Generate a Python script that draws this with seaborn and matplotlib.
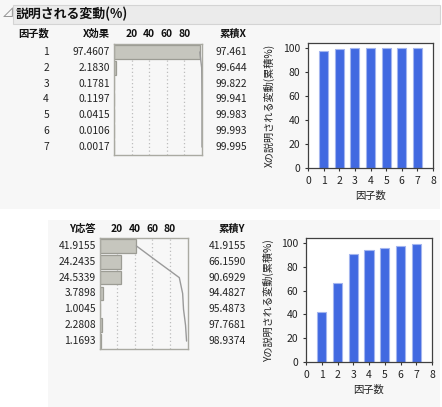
import matplotlib
matplotlib.use("Agg")
import matplotlib.pyplot as plt
from matplotlib.patches import Rectangle
import seaborn as sns

# ---------------- data ----------------
factors = [1, 2, 3, 4, 5, 6, 7]
x_effect = [97.4607, 2.1830, 0.1781, 0.1197, 0.0415, 0.0106, 0.0017]
cum_x = [97.461, 99.644, 99.822, 99.941, 99.983, 99.993, 99.995]
y_resp = [41.9155, 24.2435, 24.5339, 3.7898, 1.0045, 2.2808, 1.1693]
cum_y = [41.9155, 66.1590, 90.6929, 94.4827, 95.4873, 97.7681, 98.9374]
mini_ticks = [20, 40, 60, 80]
axis_ticks_x = [0, 1, 2, 3, 4, 5, 6, 7, 8]
axis_ticks_y = [0, 20, 40, 60, 80, 100]

title = "説明される変動(%)"
hdr_factor = "因子数"
hdr_xeff = "X効果"
hdr_cumx = "累積X"
hdr_yresp = "Y応答"
hdr_cumy = "累積Y"
ylab_x = "Xの説明される変動(累積%)"
ylab_y = "Yの説明される変動(累積%)"
xlab = "因子数"

sns.set_style("white")
FAM = ["Noto Sans CJK JP", "DejaVu Sans"]
plt.rcParams["font.family"] = FAM

W, H = 442, 407
fig = plt.figure(figsize=(W / 100, H / 100), dpi=100)
fig.patch.set_facecolor("white")


def rect(x0, y0, x1, y1):
    return [x0 / W, 1 - y1 / H, (x1 - x0) / W, (y1 - y0) / H]


def ftext(x, y, s, **kw):
    kw.setdefault("va", "center")
    kw.setdefault("fontsize", 7.4)
    kw.setdefault("color", "#222222")
    fig.text(x / W, 1 - y / H, s, **kw)


def bg(x0, y0, x1, y1, fc, ec="none", lw=0, z=-5):
    fig.patches.append(Rectangle((x0 / W, 1 - y1 / H), (x1 - x0) / W, (y1 - y0) / H,
                                 transform=fig.transFigure, facecolor=fc,
                                 edgecolor=ec, linewidth=lw, zorder=z))


# panels
bg(0, 0, 440, 209, "#f7f7f7")
bg(48, 220, 440, 407, "#f7f7f7")
bg(13, 5, 440, 24, "#ebebeb", ec="#d4d4d4", lw=0.8, z=-4)
ftext(8, 14, "⊿", fontsize=9, color="#888888", ha="center")
ftext(16, 14, title, fontsize=9.3, fontweight="bold", color="#111111", ha="left")

BAR_GRAY = "#c6c6be"
BAR_EDGE = "#9c9c94"
BOX = "#aaaaa2"
BLUE = "#4169e1"


def mini(box, vals, cum, pad):
    ax = fig.add_axes(rect(*box))
    ax.set_facecolor("none")
    sns.barplot(x=vals, y=factors, orient="h", native_scale=True, width=0.86,
                color=BAR_GRAY, saturation=1, edgecolor=BAR_EDGE, linewidth=0.9, ax=ax)
    sns.lineplot(x=cum, y=factors, sort=False, estimator=None, color="#9a9a9a",
                 linewidth=1.0, ax=ax)
    ax.set_xlim(0, 100)
    ax.set_ylim(7.5, 0.5)
    ax.xaxis.tick_top()
    ax.set_xticks(mini_ticks)
    ax.set_xticklabels([str(t) for t in mini_ticks], fontweight="bold", fontsize=7.4,
                       color="#111111")
    ax.set_yticks([])
    ax.tick_params(axis="x", length=0, pad=pad)
    ax.grid(axis="x", ls=(0, (1, 2)), color="#bdbdbd", lw=0.9)
    ax.grid(axis="y", visible=False)
    ax.set_axisbelow(True)
    ax.set_xlabel("")
    ax.set_ylabel("")
    for s in ax.spines.values():
        s.set_visible(True)
        s.set_color(BOX)
        s.set_linewidth(1.0)
    return ax


def bigbar(box, cum, ylab, ylabx):
    ax = fig.add_axes(rect(*box))
    ax.set_facecolor("white")
    sns.barplot(x=factors, y=cum, native_scale=True, width=0.58, color=BLUE,
                saturation=1, edgecolor="#a3b5ef", linewidth=0.8, ax=ax)
    ax.set_xlim(0, 8)
    ax.set_ylim(0, 104.3)
    ax.set_xticks(axis_ticks_x)
    ax.set_yticks(axis_ticks_y)
    ax.set_xticklabels([str(t) for t in axis_ticks_x])
    ax.set_yticklabels([str(t) for t in axis_ticks_y])
    ax.tick_params(axis="both", direction="out", length=2.5, width=0.8, colors="#333333",
                   labelsize=7.5, labelcolor="#222222", pad=3.3, left=True, bottom=True)
    ax.set_xlabel("")
    ax.set_ylabel("")
    for s in ax.spines.values():
        s.set_visible(True)
        s.set_color("#404040")
        s.set_linewidth(0.9)
    x0, y0, x1, y1 = box
    fig.text(ylabx / W, 1 - ((y0 + y1) / 2) / H, ylab, rotation=90, ha="center",
             va="center", fontsize=7.3, color="#222222")
    ftext((x0 + x1) / 2, y1 + 28, xlab, ha="center", fontsize=7.4)
    return ax


# ---------- top table ----------
top_box = (114, 44, 202, 155)
mini(top_box, x_effect, cum_x, 3.5)
ftext(34, 34, hdr_factor, ha="center", fontweight="bold", color="#111111")
ftext(110, 34, hdr_xeff, ha="right", fontweight="bold", color="#111111")
ftext(247, 34, hdr_cumx, ha="right", fontweight="bold", color="#111111")
rh = (top_box[3] - top_box[1]) / 7
for i, f in enumerate(factors):
    yc = top_box[1] + rh * (i + 0.5)
    ftext(49, yc, str(f), ha="right")
    ftext(110, yc, f"{x_effect[i]:.4f}", ha="right")
    ftext(247, yc, f"{cum_x[i]:.3f}", ha="right")

bigbar((308, 43, 433, 168), cum_x, ylab_x, 269)

# ---------- bottom table ----------
bot_box = (99.5, 238, 187.5, 349)
mini(bot_box, y_resp, cum_y, 3.0)
ftext(96, 229, hdr_yresp, ha="right", fontweight="bold", color="#111111")
ftext(245, 229, hdr_cumy, ha="right", fontweight="bold", color="#111111")
rh = (bot_box[3] - bot_box[1]) / 7
for i, f in enumerate(factors):
    yc = bot_box[1] + rh * (i + 0.5)
    ftext(96, yc, f"{y_resp[i]:.4f}", ha="right")
    ftext(246, yc, f"{cum_y[i]:.4f}", ha="right")

bigbar((306, 238, 432, 362), cum_y, ylab_y, 268)

fig.savefig("out.png", dpi=100)
